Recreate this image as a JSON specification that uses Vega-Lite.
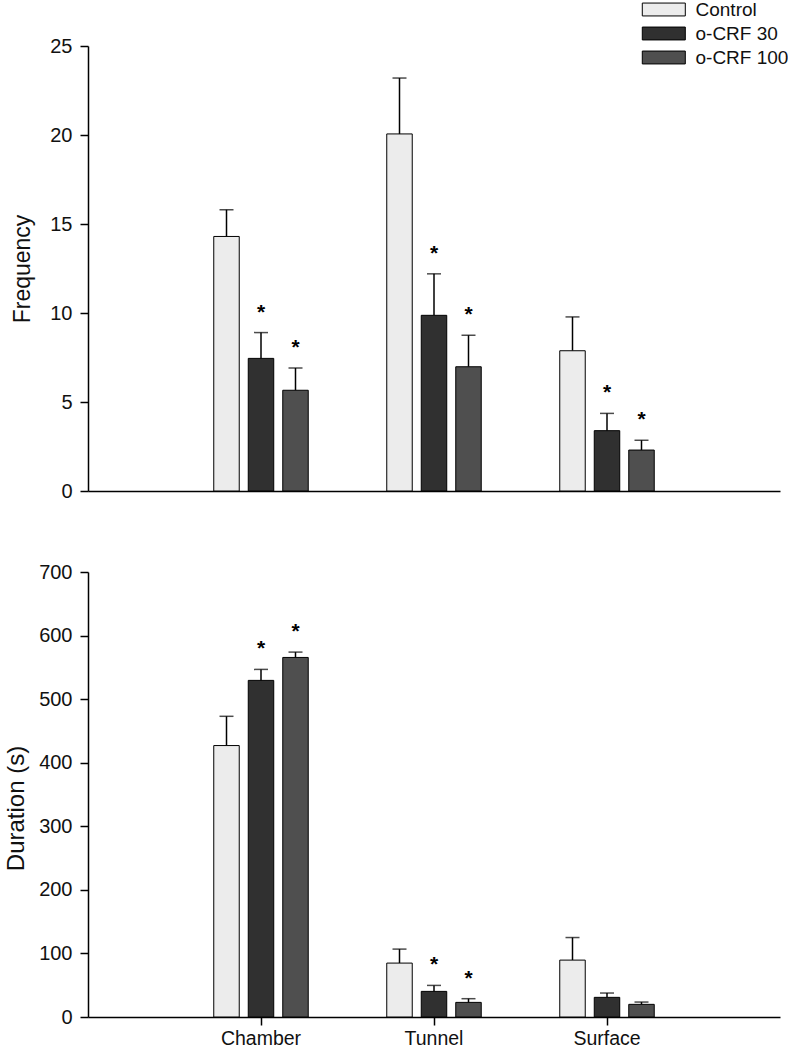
{
  "$schema": "https://vega.github.io/schema/vega-lite/v6.json",
  "padding": {"left": 4, "top": 0, "right": 0, "bottom": 0},
  "background": "white",
  "config": {
    "view": {"stroke": null},
    "font": "Liberation Sans",
    "axis": {
      "domainColor": "black", "domainWidth": 1.5,
      "tickColor": "black", "tickWidth": 1.5, "tickSize": 8,
      "labelFont": "Liberation Sans", "labelFontSize": 20, "labelColor": "#111",
      "titleFont": "Liberation Sans", "titleFontSize": 23, "titleFontWeight": "normal", "titleColor": "#111",
      "grid": false, "labelPadding": 8
    }
  },
  "datasets": {
    "freq": [
      {"region": "Chamber", "group": "Control", "mean": 14.3, "upper": 15.8, "sig": ""},
      {"region": "Chamber", "group": "o-CRF 30", "mean": 7.45, "upper": 8.9, "sig": "*"},
      {"region": "Chamber", "group": "o-CRF 100", "mean": 5.66, "upper": 6.91, "sig": "*"},
      {"region": "Tunnel", "group": "Control", "mean": 20.06, "upper": 23.2, "sig": ""},
      {"region": "Tunnel", "group": "o-CRF 30", "mean": 9.87, "upper": 12.2, "sig": "*"},
      {"region": "Tunnel", "group": "o-CRF 100", "mean": 6.98, "upper": 8.75, "sig": "*"},
      {"region": "Surface", "group": "Control", "mean": 7.88, "upper": 9.78, "sig": ""},
      {"region": "Surface", "group": "o-CRF 30", "mean": 3.39, "upper": 4.36, "sig": "*"},
      {"region": "Surface", "group": "o-CRF 100", "mean": 2.3, "upper": 2.85, "sig": "*"}
    ],
    "dur": [
      {"region": "Chamber", "group": "Control", "mean": 427, "upper": 473, "sig": ""},
      {"region": "Chamber", "group": "o-CRF 30", "mean": 529.5, "upper": 546.8, "sig": "*"},
      {"region": "Chamber", "group": "o-CRF 100", "mean": 565.6, "upper": 574, "sig": "*"},
      {"region": "Tunnel", "group": "Control", "mean": 84.8, "upper": 106.8, "sig": ""},
      {"region": "Tunnel", "group": "o-CRF 30", "mean": 40.3, "upper": 49.7, "sig": "*"},
      {"region": "Tunnel", "group": "o-CRF 100", "mean": 23, "upper": 28.8, "sig": "*"},
      {"region": "Surface", "group": "Control", "mean": 89.5, "upper": 125, "sig": ""},
      {"region": "Surface", "group": "o-CRF 30", "mean": 30.9, "upper": 37.7, "sig": ""},
      {"region": "Surface", "group": "o-CRF 100", "mean": 19.9, "upper": 23.5, "sig": ""}
    ]
  },
  "spacing": 81,
  "bounds": "flush",
  "resolve": {"scale": {"color": "independent", "x": "independent", "y": "independent"}, "legend": {"color": "independent"}},
  "vconcat": [
    {
      "width": 692, "height": 445,
      "data": {"name": "freq"},
      "encoding": {
        "x": {"field": "region", "type": "nominal", "sort": ["Chamber", "Tunnel", "Surface"],
              "scale": {"paddingInner": 0.4538, "paddingOuter": 0.7269},
              "axis": {"labels": false, "ticks": false, "title": null}},
        "xOffset": {"field": "group", "type": "nominal", "sort": ["Control", "o-CRF 30", "o-CRF 100"],
                    "scale": {"paddingInner": 0.261, "paddingOuter": 0}}
      },
      "layer": [
        {
          "mark": {"type": "rule", "strokeWidth": 1.5, "color": "black"},
          "encoding": {
            "y": {"field": "mean", "type": "quantitative", "scale": {"domain": [0, 25], "nice": false},
                  "axis": {"values": [0, 5, 10, 15, 20, 25], "title": "Frequency", "titleX": -59, "titleBaseline": "alphabetic", "titleAngle": -90}},
            "y2": {"field": "upper"}
          }
        },
        {
          "mark": {"type": "tick", "size": 14, "thickness": 1.5, "color": "black", "orient": "horizontal"},
          "encoding": {"y": {"field": "upper", "type": "quantitative"}}
        },
        {
          "mark": {"type": "bar", "stroke": "black", "strokeWidth": 1},
          "encoding": {
            "y": {"field": "mean", "type": "quantitative"},
            "color": {"field": "group", "type": "nominal",
                      "scale": {"domain": ["Control", "o-CRF 30", "o-CRF 100"], "range": ["#ececec", "#303030", "#4f4f4f"]},
                      "legend": {"orient": "none", "legendX": 566.3, "legendY": -46, "title": null,
                                 "symbolType": "M-3,-0.9H3V0.9H-3Z", "symbolSize": 205.6,
                                 "symbolStrokeColor": "black", "symbolStrokeWidth": 1, "symbolOpacity": 1,
                                 "labelFontSize": 19, "labelFont": "Liberation Sans", "labelColor": "#111",
                                 "labelOffset": 22.2, "rowPadding": 4, "padding": 0}}
          }
        },
        {
          "mark": {"type": "text", "dy": -14, "fontSize": 21, "fontWeight": "bold", "font": "Liberation Sans", "baseline": "alphabetic", "color": "black"},
          "encoding": {"y": {"field": "upper", "type": "quantitative"}, "text": {"field": "sig"}}
        }
      ]
    },
    {
      "width": 692, "height": 445,
      "data": {"name": "dur"},
      "encoding": {
        "x": {"field": "region", "type": "nominal", "sort": ["Chamber", "Tunnel", "Surface"],
              "scale": {"paddingInner": 0.4538, "paddingOuter": 0.7269},
              "axis": {"title": null, "labelAngle": 0, "labelFontSize": 19.5, "labelPadding": 4}},
        "xOffset": {"field": "group", "type": "nominal", "sort": ["Control", "o-CRF 30", "o-CRF 100"],
                    "scale": {"paddingInner": 0.261, "paddingOuter": 0}}
      },
      "layer": [
        {
          "mark": {"type": "rule", "strokeWidth": 1.5, "color": "black"},
          "encoding": {
            "y": {"field": "mean", "type": "quantitative", "scale": {"domain": [0, 700], "nice": false},
                  "axis": {"values": [0, 100, 200, 300, 400, 500, 600, 700], "title": "Duration (s)", "titleFontSize": 24, "titleX": -65, "titleY": 236, "titleBaseline": "alphabetic", "titleAngle": -90}},
            "y2": {"field": "upper"}
          }
        },
        {
          "mark": {"type": "tick", "size": 14, "thickness": 1.5, "color": "black", "orient": "horizontal"},
          "encoding": {"y": {"field": "upper", "type": "quantitative"}}
        },
        {
          "mark": {"type": "bar", "stroke": "black", "strokeWidth": 1},
          "encoding": {
            "y": {"field": "mean", "type": "quantitative"},
            "color": {"field": "group", "type": "nominal",
                      "scale": {"domain": ["Control", "o-CRF 30", "o-CRF 100"], "range": ["#ececec", "#303030", "#4f4f4f"]},
                      "legend": null}
          }
        },
        {
          "mark": {"type": "text", "dy": -14, "fontSize": 21, "fontWeight": "bold", "font": "Liberation Sans", "baseline": "alphabetic", "color": "black"},
          "encoding": {"y": {"field": "upper", "type": "quantitative"}, "text": {"field": "sig"}}
        }
      ]
    }
  ]
}
